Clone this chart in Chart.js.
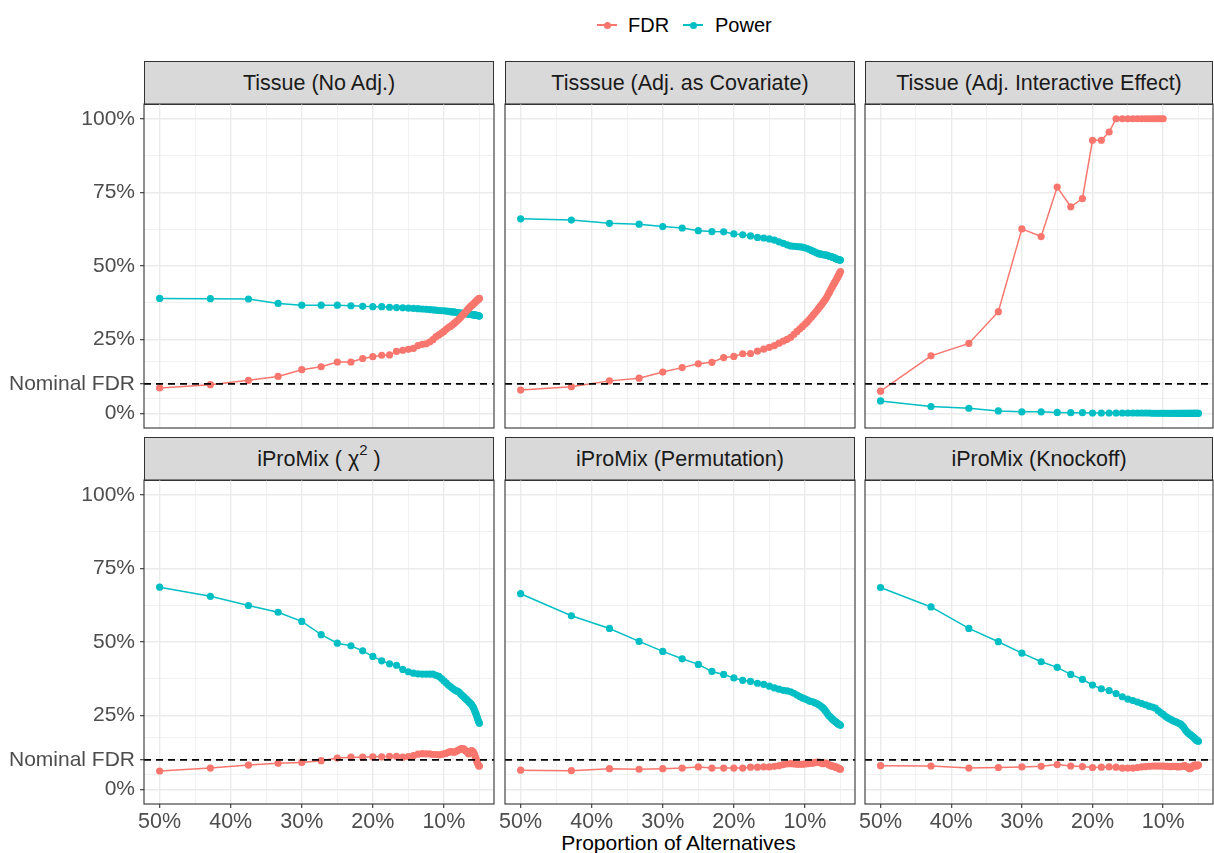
<!DOCTYPE html>
<html><head><meta charset="utf-8">
<script src="https://cdn.jsdelivr.net/npm/chart.js@4.4.1/dist/chart.umd.min.js"></script>
<style>
html,body{margin:0;padding:0;background:#fff;}
body{width:1214px;height:853px;position:relative;overflow:hidden;font-family:"Liberation Sans",Arial,Helvetica,sans-serif;}
.strip{position:absolute;background:#D9D9D9;border:1px solid #333333;box-sizing:border-box;color:#1A1A1A;font-size:21.5px;display:flex;align-items:center;justify-content:center;white-space:nowrap;}
.strip sup{font-size:15px;line-height:0;position:relative;top:-2px;}
canvas{position:absolute;}
.lg-line{position:absolute;height:2px;}
.lg-dot{position:absolute;width:7px;height:7px;border-radius:50%;}
.lg-text{position:absolute;font-size:20px;color:#000;line-height:24px;}
#xtitle{position:absolute;left:144px;width:1069px;top:830px;text-align:center;font-size:21px;color:#000;line-height:25px;}
</style></head>
<body>
<div id="legend"></div>
<div id="strips"></div>
<div id="xtitle">Proportion of Alternatives</div>
<script>
// ---------------- data ----------------
const proportion = [50, 42.86, 37.5, 33.33, 30, 27.27, 25, 23.08, 21.43, 20, 18.75, 17.65, 16.67, 15.79, 15, 14.29, 13.64, 13.04, 12.5, 12, 11.54, 11.11, 10.71, 10.34, 10, 9.68, 9.38, 9.09, 8.82, 8.57, 8.33, 8.11, 7.89, 7.69, 7.5, 7.32, 7.14, 6.98, 6.82, 6.67, 6.52, 6.38, 6.25, 6.12, 6, 5.88, 5.77, 5.66, 5.56, 5.45, 5.36, 5.26, 5.17, 5.08, 5];

const seriesNames = ['FDR', 'Power'];
const panelTitles = ['Tissue (No Adj.)', 'Tisssue (Adj. as Covariate)', 'Tissue (Adj. Interactive Effect)', 'iProMix ( χ<sup>2</sup> )', 'iProMix (Permutation)', 'iProMix (Knockoff)'];

const noAdjFDR = [8.6, 9.7, 11.2, 12.5, 14.8, 15.8, 17.4, 17.4, 18.6, 19.2, 19.7, 19.8, 21.0, 21.4, 21.7, 22.0, 23.0, 23.4, 23.6, 24.2, 25.0, 26.0, 26.6, 27.2, 27.8, 28.5, 29.1, 29.5, 30.0, 30.5, 31.0, 31.4, 32.0, 32.4, 33.0, 33.4, 33.9, 34.3, 34.7, 35.2, 35.5, 35.9, 36.3, 36.5, 36.8, 37.0, 37.3, 37.6, 37.8, 38.0, 38.3, 38.5, 38.7, 38.9, 39.0];
const noAdjPower = [39.0, 38.9, 38.8, 37.3, 36.7, 36.7, 36.7, 36.5, 36.3, 36.2, 36.2, 36.0, 35.9, 35.8, 35.7, 35.6, 35.5, 35.4, 35.3, 35.2, 35.1, 35.0, 34.9, 34.8, 34.8, 34.7, 34.6, 34.5, 34.4, 34.4, 34.3, 34.2, 34.1, 34.0, 34.0, 33.9, 33.9, 33.8, 33.8, 33.7, 33.7, 33.6, 33.6, 33.5, 33.5, 33.4, 33.4, 33.3, 33.3, 33.3, 33.2, 33.2, 33.1, 33.1, 33.0];

const covariateFDR = [7.9, 9.0, 11.0, 11.9, 14.0, 15.5, 16.8, 17.3, 18.9, 19.3, 20.2, 20.3, 21.1, 21.8, 22.4, 23.0, 23.8, 24.5, 25.1, 25.8, 26.8, 27.8, 28.7, 29.5, 30.3, 31.0, 31.8, 32.6, 33.4, 34.1, 34.8, 35.5, 36.2, 36.8, 37.4, 38.0, 38.6, 39.2, 39.9, 40.6, 41.2, 41.9, 42.5, 43.0, 43.6, 44.1, 44.6, 45.0, 45.5, 45.9, 46.4, 46.8, 47.3, 47.7, 48.1];
const covariatePower = [66.0, 65.6, 64.5, 64.2, 63.4, 62.9, 62.0, 61.7, 61.6, 60.9, 60.6, 60.2, 59.7, 59.5, 59.2, 58.8, 58.2, 57.7, 57.2, 56.8, 56.7, 56.6, 56.5, 56.4, 56.2, 55.9, 55.6, 55.3, 55.0, 54.7, 54.5, 54.2, 54.1, 54.0, 53.9, 53.8, 53.7, 53.7, 53.6, 53.4, 53.3, 53.2, 53.1, 53.0, 52.9, 52.8, 52.7, 52.5, 52.4, 52.3, 52.2, 52.2, 52.1, 52.0, 52.0];

const interactiveFDR = [7.5, 19.5, 23.7, 34.5, 62.6, 60.0, 76.8, 70.1, 72.9, 92.7, 92.7, 95.5, 100, 100, 100, 100, 100, 100, 100, 100, 100, 100, 100, 100, 100];
const interactivePower = [4.2, 2.3, 1.7, 0.8, 0.5, 0.5, 0.3, 0.2, 0.2, 0.1, 0.1, 0.1, 0.1, 0.1, 0.1, 0.1, 0.1, 0.1, 0.1, 0.1, 0, 0, 0, 0, 0, 0, 0, 0, 0, 0, 0, 0, 0, 0, 0, 0, 0, 0, 0, 0, 0, 0, 0, 0, 0, 0, 0, 0, 0, 0, 0, 0, 0, 0, 0];

const chisqFDR = [6.2, 7.2, 8.2, 8.8, 9.1, 9.7, 10.6, 10.9, 10.9, 11.0, 11.0, 11.2, 11.2, 10.9, 11.1, 11.4, 11.9, 12.1, 12.0, 12.0, 11.8, 11.8, 11.7, 11.8, 12.0, 12.2, 12.5, 12.8, 12.7, 12.5, 12.8, 13.1, 13.4, 13.6, 13.8, 13.8, 13.6, 13.1, 12.8, 12.5, 12.0, 12.7, 12.9, 13.1, 13.0, 12.7, 12.2, 11.6, 10.9, 10.2, 9.4, 8.8, 8.3, 7.9, 7.9];
const chisqPower = [68.6, 65.5, 62.4, 60.1, 57.0, 52.5, 49.6, 48.7, 47.0, 45.1, 43.6, 42.6, 42.1, 40.7, 39.9, 39.4, 39.2, 39.1, 39.1, 39.1, 39.1, 38.7, 38.3, 37.6, 36.8, 36.1, 35.4, 34.9, 34.3, 33.9, 33.5, 33.3, 33.0, 32.5, 32.0, 31.6, 31.3, 30.8, 30.5, 30.1, 29.8, 29.4, 29.1, 28.8, 28.3, 27.9, 27.3, 26.6, 26.0, 25.4, 24.7, 24.0, 23.3, 22.8, 22.4];

const permFDR = [6.5, 6.3, 7.0, 6.8, 7.0, 7.2, 7.6, 7.2, 7.2, 7.2, 7.2, 7.5, 7.5, 7.6, 7.6, 7.8, 8.0, 8.4, 8.6, 8.7, 8.6, 8.5, 8.5, 8.5, 8.6, 8.7, 8.8, 8.9, 8.9, 9.1, 9.1, 9.2, 9.1, 8.8, 8.7, 8.8, 8.9, 8.8, 8.6, 8.4, 8.2, 8.0, 8.0, 7.9, 7.8, 7.7, 7.6, 7.5, 7.5, 7.4, 7.2, 7.1, 7.0, 6.9, 6.8];
const permPower = [66.4, 58.9, 54.6, 50.2, 46.8, 44.3, 42.4, 40.0, 39.0, 37.8, 37.0, 36.6, 36.0, 35.6, 35.0, 34.4, 34.0, 33.6, 33.4, 33.1, 32.6, 32.0, 31.5, 31.0, 30.7, 30.4, 30.0, 29.8, 29.6, 29.3, 29.1, 28.8, 28.4, 28.1, 27.7, 27.3, 26.7, 26.2, 25.6, 25.1, 24.8, 24.5, 24.1, 23.8, 23.6, 23.3, 23.1, 22.9, 22.7, 22.4, 22.3, 22.1, 22.0, 21.9, 21.7];

const knockoffFDR = [8.0, 7.9, 7.2, 7.4, 7.6, 7.8, 8.4, 7.9, 7.7, 7.4, 7.5, 7.6, 7.5, 7.2, 7.2, 7.2, 7.4, 7.6, 7.7, 7.8, 7.9, 7.9, 7.9, 7.9, 7.9, 7.8, 7.8, 7.7, 7.7, 7.8, 7.8, 7.7, 7.6, 7.7, 7.7, 7.8, 7.9, 8.0, 7.9, 7.7, 7.5, 7.2, 7.0, 7.1, 7.5, 7.7, 7.9, 8.0, 8.2, 8.2, 8.0, 7.9, 8.0, 8.2, 8.2];
const knockoffPower = [68.5, 61.9, 54.6, 50.1, 46.2, 43.3, 41.4, 39.0, 37.3, 35.4, 34.1, 33.5, 32.5, 31.4, 30.6, 30.1, 29.6, 29.1, 28.7, 28.2, 27.9, 27.6, 26.7, 26.0, 25.4, 24.8, 24.3, 23.9, 23.6, 23.2, 23.0, 22.8, 22.5, 22.3, 22.1, 21.6, 21.2, 20.6, 20.0, 19.6, 19.3, 18.9, 18.7, 18.5, 18.2, 18.0, 17.8, 17.6, 17.3, 17.1, 16.9, 16.6, 16.5, 16.4, 16.3];

const nominalFDR = 10;
const yTickValues = [0, 10, 25, 50, 75, 100];
const yTickLabels = ['0%', 'Nominal FDR', '25%', '50%', '75%', '100%'];
const yMinorValues = [5, 17.5, 37.5, 62.5, 87.5];
const xTickValues = [10, 20, 30, 40, 50];
const xTickLabels = ['10%', '20%', '30%', '40%', '50%'];
const xMinorValues = [5, 15, 25, 35, 45];

// ---------------- layout / style ----------------
const COLORS = ['#F8766D', '#00BFC4'];
const FONT = '"Liberation Sans", Arial, Helvetica, sans-serif';
const colLeft = [144, 505, 865], colWidth = [350, 350, 348];
const rowTop = [104, 480], rowHeight = [324, 324];
const stripTop = [61, 437], stripH = 43;

const panels = [
  [noAdjFDR, noAdjPower], [covariateFDR, covariatePower], [interactiveFDR, interactivePower],
  [chisqFDR, chisqPower], [permFDR, permPower], [knockoffFDR, knockoffPower]
];

// legend
(function(){
  const lg = document.getElementById('legend');
  const items = [{x: 597, tx: 628}, {x: 683, tx: 715}];
  items.forEach((it, k) => {
    const l = document.createElement('div'); l.className = 'lg-line';
    l.style.left = it.x + 'px'; l.style.top = '24px'; l.style.width = '20px'; l.style.background = COLORS[k];
    const d = document.createElement('div'); d.className = 'lg-dot';
    d.style.left = (it.x + 6.5) + 'px'; d.style.top = '21.5px'; d.style.background = COLORS[k];
    const t = document.createElement('div'); t.className = 'lg-text';
    t.style.left = it.tx + 'px'; t.style.top = '13px'; t.textContent = seriesNames[k];
    lg.appendChild(l); lg.appendChild(d); lg.appendChild(t);
  });
})();

// strips
(function(){
  const st = document.getElementById('strips');
  panelTitles.forEach((title, i) => {
    const col = i % 3, row = Math.floor(i / 3);
    const s = document.createElement('div'); s.className = 'strip';
    s.style.left = colLeft[col] + 'px'; s.style.width = colWidth[col] + 'px';
    s.style.top = stripTop[row] + 'px'; s.style.height = (stripH + 1) + 'px';
    s.innerHTML = '<span>' + title + '</span>';
    st.appendChild(s);
  });
})();

const decor = {
  id: 'decor',
  afterDatasetsDraw(chart) {
    const {ctx, chartArea: a, scales: {y}} = chart;
    const yy = y.getPixelForValue(nominalFDR);
    ctx.save();
    ctx.beginPath(); ctx.rect(a.left, a.top, a.width, a.height); ctx.clip();
    ctx.setLineDash([7, 5]); ctx.lineWidth = 1.7; ctx.strokeStyle = '#000';
    ctx.beginPath(); ctx.moveTo(a.left, yy); ctx.lineTo(a.right, yy); ctx.stroke();
    ctx.restore();
  },
  afterDraw(chart) {
    const {ctx, chartArea: a} = chart;
    ctx.save(); ctx.strokeStyle = '#333333'; ctx.lineWidth = 1.1;
    ctx.strokeRect(a.left, a.top, a.width, a.height);
    ctx.restore();
  }
};

const toPoints = arr => arr.map((v, i) => ({x: proportion[i], y: v}));
const isIn = (list, v) => list.some(t => Math.abs(t - v) < 1e-9);
const noPad = s => { s.paddingTop = 0; s.paddingBottom = 0; s.paddingLeft = 0; s.paddingRight = 0; };

panels.forEach((pair, i) => {
  const col = i % 3, row = Math.floor(i / 3);
  const pad = 2;
  const yW = col === 0 ? colLeft[0] : 25;
  const xH = row === 1 ? 34 : 0;
  const pw = colWidth[col], ph = rowHeight[row];
  const cw = yW + pw + pad, ch = pad + ph + (xH || pad);
  const cv = document.createElement('canvas');
  cv.width = cw; cv.height = ch;
  cv.style.left = (colLeft[col] - yW) + 'px'; cv.style.top = (rowTop[row] - pad) + 'px';
  cv.style.width = cw + 'px'; cv.style.height = ch + 'px';
  document.body.appendChild(cv);

  const datasets = pair.map((arr, k) => ({
    label: seriesNames[k], data: toPoints(arr),
    borderColor: COLORS[k], backgroundColor: COLORS[k],
    pointBackgroundColor: COLORS[k], pointBorderWidth: 0, pointRadius: 3.6,
    borderWidth: 1.5, tension: 0, clip: 6
  }));

  new Chart(cv, {
    type: 'line',
    data: {datasets},
    options: {
      responsive: false, animation: false, devicePixelRatio: 1,
      layout: {padding: {top: pad, right: pad, bottom: xH ? 0 : pad, left: 0}, autoPadding: false},
      plugins: {legend: {display: false}, tooltip: {enabled: false}},
      scales: {
        x: {
          type: 'linear', reverse: true, min: 2.95, max: 52.2,
          afterBuildTicks: s => { s.ticks = xMinorValues.concat(xTickValues).sort((a, b) => a - b).map(v => ({value: v})); },
          afterFit: s => { s.height = xH; noPad(s); },
          border: {display: false},
          grid: {
            color: '#EBEBEB',
            lineWidth: c => (c.tick && isIn(xTickValues, c.tick.value)) ? 1.4 : 0.7,
            drawTicks: row === 1, tickLength: 4, tickWidth: 1.1,
            tickColor: c => (c.tick && isIn(xTickValues, c.tick.value)) ? '#333333' : 'rgba(0,0,0,0)'
          },
          ticks: {
            display: row === 1, autoSkip: false, maxRotation: 0, minRotation: 0, padding: 1,
            color: '#4D4D4D', font: {size: 21.5, family: FONT},
            callback: v => { const j = xTickValues.findIndex(t => Math.abs(t - v) < 1e-9); return j >= 0 ? xTickLabels[j] : ''; }
          }
        },
        y: {
          type: 'linear', min: -5, max: 105,
          afterBuildTicks: s => { s.ticks = yMinorValues.concat(yTickValues).sort((a, b) => a - b).map(v => ({value: v})); },
          afterFit: s => { s.width = yW; noPad(s); },
          border: {display: false},
          grid: {
            color: '#EBEBEB',
            lineWidth: c => (c.tick && isIn(yTickValues, c.tick.value)) ? 1.4 : 0.7,
            drawTicks: col === 0, tickLength: 4, tickWidth: 1.1,
            tickColor: c => (c.tick && isIn(yTickValues, c.tick.value)) ? '#333333' : 'rgba(0,0,0,0)'
          },
          ticks: {
            display: col === 0, autoSkip: false, padding: 5,
            color: '#4D4D4D', font: {size: 21, family: FONT},
            callback: v => { const j = yTickValues.findIndex(t => Math.abs(t - v) < 1e-9); return j >= 0 ? yTickLabels[j] : ''; }
          }
        }
      }
    },
    plugins: [decor]
  });
});
</script>
</body></html>
